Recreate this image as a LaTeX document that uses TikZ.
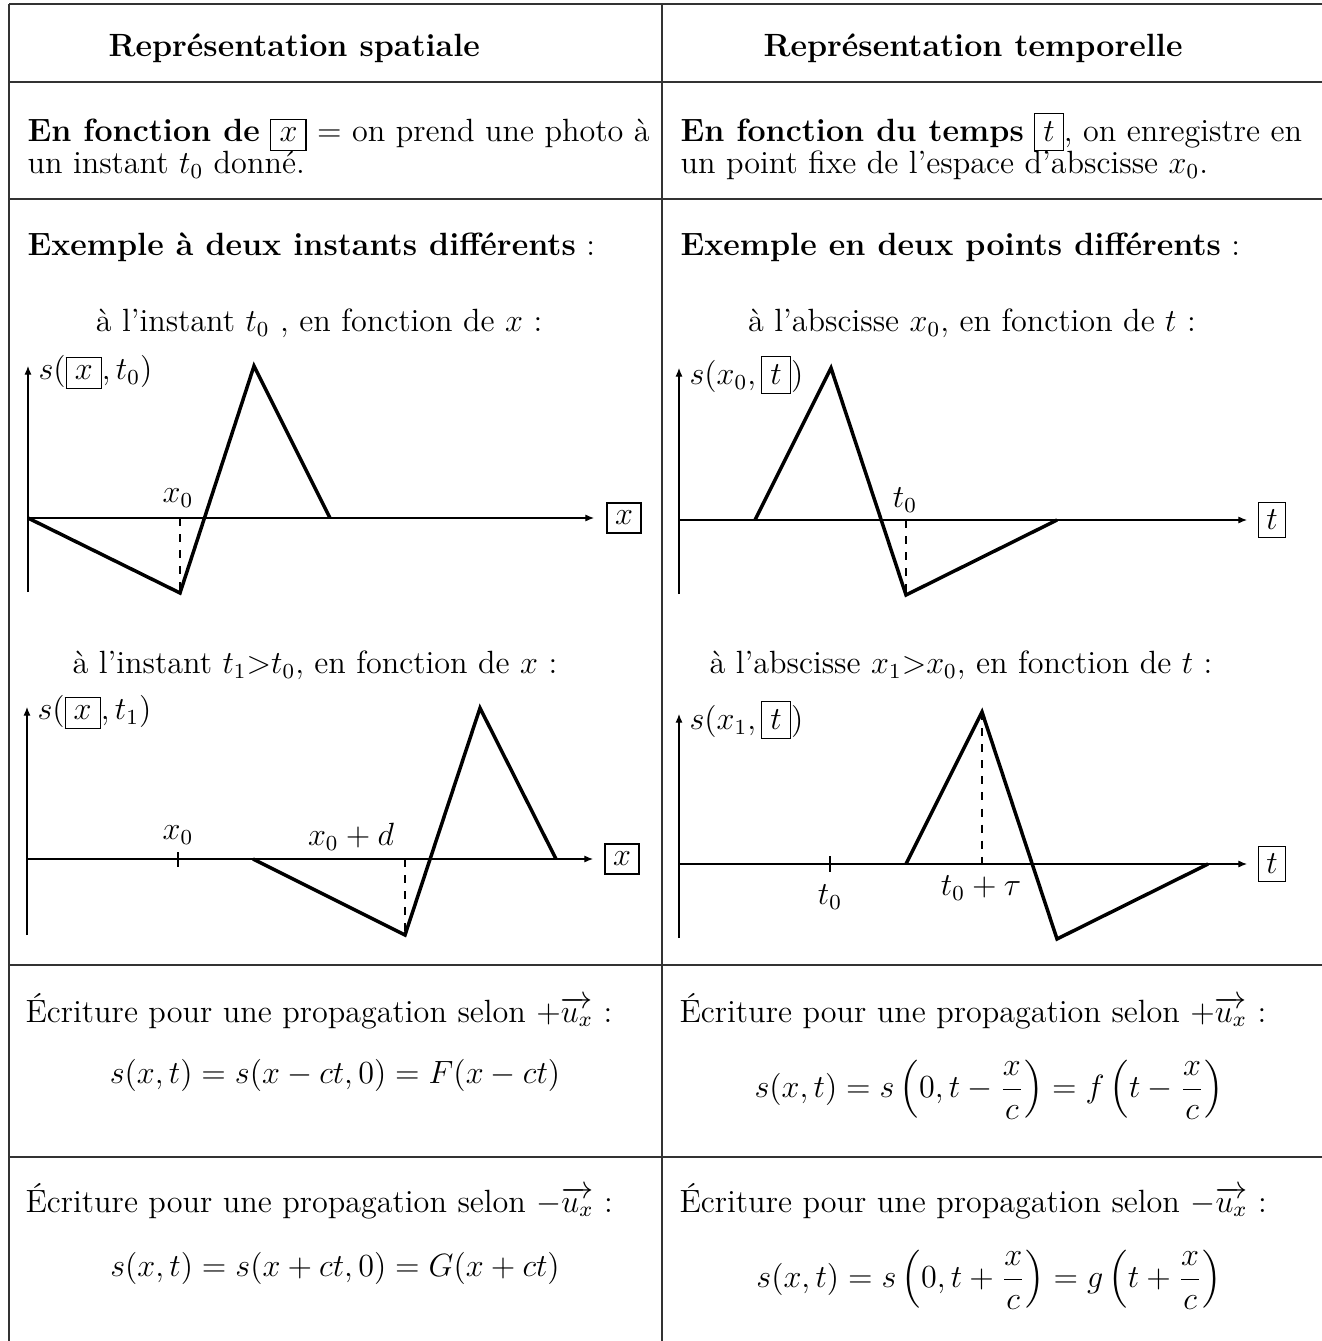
\documentclass[tikz,border=0pt,12pt]{standalone}
\usepackage{amsmath, amssymb}
\usetikzlibrary{arrows.meta, positioning}
\setlength{\fboxsep}{3pt}
\setlength{\fboxrule}{0.4pt}

\begin{document}
\begin{tikzpicture}[
  x=0.0131cm, y=-0.0131cm,
  rule/.style={line width=0.5pt, black!80},
  axis/.style={line width=0.4pt, -{Latex[length=3.2pt, width=2.6pt]}},
  signal/.style={line width=1.3pt, line join=miter},
  guide/.style={line width=0.4pt, dashed},
  lbl/.style={inner sep=0pt},
  endbox/.style={draw, line width=0.4pt, inner sep=3pt}
]
  \useasboundingbox (0,0) rectangle (1322,1341);

  % grille du tableau
  \draw[rule] (9,4) -- (1322,4);
  \draw[rule] (9,82) -- (1322,82);
  \draw[rule] (9,199) -- (1322,199);
  \draw[rule] (9,965) -- (1322,965);
  \draw[rule] (9,1157) -- (1322,1157);
  \draw[rule] (9,4) -- (9,1341);
  \draw[rule] (662,4) -- (662,1341);

  % en-tetes
  \node[lbl, anchor=base west] (hdspace) at (108,57) {\textbf{Représentation spatiale}};
  \node[lbl, anchor=base west] (hdtime) at (763,57) {\textbf{Représentation temporelle}};

  \node[lbl, anchor=base west] (defx1) at (27,142) {\textbf{En fonction de} \fbox{$x$} $=$ on prend une photo à};
  \node[lbl, anchor=base west] (defx2) at (27,174) {un instant $t_0$ donné.};
  \node[lbl, anchor=base west] (deft1) at (680,142) {\textbf{En fonction du temps} \fbox{$t$}, on enregistre en};
  \node[lbl, anchor=base west] (deft2) at (680,174) {un point fixe de l'espace d'abscisse $x_0$.};

  \node[lbl, anchor=base west] (exx) at (27,256) {\textbf{Exemple à deux instants différents} :};
  \node[lbl, anchor=base west] (ext) at (680,256) {\textbf{Exemple en deux points différents} :};

  % graphe spatial, instant t0
  \node[lbl] (subxa) at (319,323) {à l'instant $t_0$ , en fonction de $x$ :};
  \draw[axis] (28,592) -- (28,366);
  \draw[axis] (28,518) -- (594,518);
  \node[endbox] (bxa) at (624,518) {$x$};
  \node[lbl, anchor=west] (sxa) at (38,372) {$s(\fbox{$x$},t_0)$};
  \draw[guide] (180,518) -- (180,593);
  \draw[signal] (28,518) -- (180,593) -- (254,366) -- (330,518);
  \node[lbl] (xa0) at (178,498) {$x_0$};

  % graphe temporel, abscisse x0
  \node[lbl] (subta) at (972,323) {à l'abscisse $x_0$, en fonction de $t$ :};
  \draw[axis] (679,594) -- (679,368);
  \draw[axis] (679,520) -- (1247,520);
  \node[endbox] (bta) at (1272,520) {$t$};
  \node[lbl, anchor=west] (sta) at (689,375) {$s(x_0,\fbox{$t$})$};
  \draw[guide] (906,520) -- (906,595);
  \draw[signal] (755,520) -- (831,368) -- (906,595) -- (1057,520);
  \node[lbl] (ta0) at (905,500) {$t_0$};

  % graphe spatial, instant t1
  \node[lbl] (subxb) at (315,665) {à l'instant $t_1{>}t_0$, en fonction de $x$ :};
  \draw[axis] (27,935) -- (27,707);
  \draw[axis] (27,859) -- (593,859);
  \node[endbox] (bxb) at (622,859) {$x$};
  \node[lbl, anchor=west] (sxb) at (37,712) {$s(\fbox{$x$},t_1)$};
  \draw[line width=0.4pt] (178,852) -- (178,867);
  \node[lbl] (xb0) at (178,835) {$x_0$};
  \draw[guide] (405,859) -- (405,935);
  \draw[signal] (253,859) -- (405,935) -- (480,708) -- (556,859);
  \node[lbl] (xbd) at (351,837) {$x_0+d$};

  % graphe temporel, abscisse x1
  \node[lbl] (subtb) at (961,665) {à l'abscisse $x_1{>}x_0$, en fonction de $t$ :};
  \draw[axis] (679,938) -- (679,714);
  \draw[axis] (679,864) -- (1247,864);
  \node[endbox] (btb) at (1272,864) {$t$};
  \node[lbl, anchor=west] (stb) at (689,720) {$s(x_1,\fbox{$t$})$};
  \draw[line width=0.4pt] (830,856) -- (830,872);
  \node[lbl] (tb0) at (830,897) {$t_0$};
  \draw[guide] (982,712) -- (982,864);
  \draw[signal] (906,864) -- (982,712) -- (1057,939) -- (1208,864);
  \node[lbl] (tbtau) at (981,888) {$t_0+\tau$};

  % ecritures
  \node[lbl, anchor=base west] (wrxp) at (25,1022) {Écriture pour une propagation selon $+\overrightarrow{u_x}$ :};
  \node[lbl, anchor=base west] (wrtp) at (679,1022) {Écriture pour une propagation selon $+\overrightarrow{u_x}$ :};
  \node[lbl] (eqxp) at (335,1075) {$s(x,t)=s(x-ct,0)=F(x-ct)$};
  \node[lbl] (eqtp) at (989,1090) {$\displaystyle s(x,t)=s\left(0,t-\frac{x}{c}\right)=f\left(t-\frac{x}{c}\right)$};

  \node[lbl, anchor=base west] (wrxm) at (25,1212) {Écriture pour une propagation selon $-\overrightarrow{u_x}$ :};
  \node[lbl, anchor=base west] (wrtm) at (679,1212) {Écriture pour une propagation selon $-\overrightarrow{u_x}$ :};
  \node[lbl] (eqxm) at (335,1268) {$s(x,t)=s(x+ct,0)=G(x+ct)$};
  \node[lbl] (eqtm) at (989,1280) {$\displaystyle s(x,t)=s\left(0,t+\frac{x}{c}\right)=g\left(t+\frac{x}{c}\right)$};
\end{tikzpicture}
\end{document}
